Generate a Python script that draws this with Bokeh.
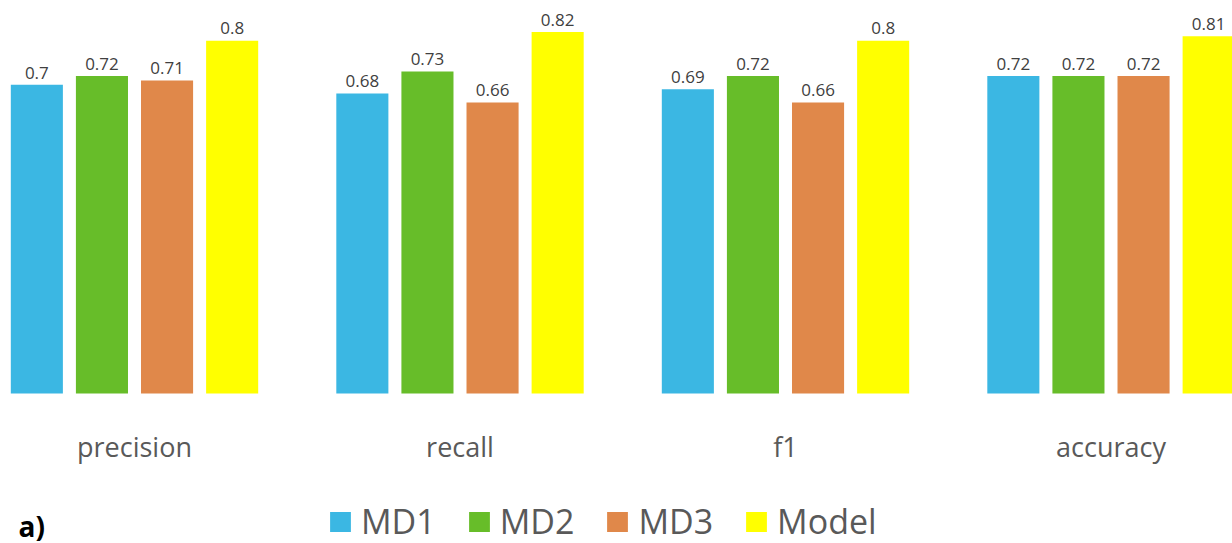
from bokeh.plotting import figure
from bokeh.models import ColumnDataSource, Range1d, Legend, LegendItem
from bokeh.core.properties import value
from bokeh.embed import file_html
from bokeh.resources import INLINE

# Metrics and the four compared models
categories = ["precision", "recall", "f1", "accuracy"]
series = ["MD1", "MD2", "MD3", "Model"]
md1 = [0.70, 0.68, 0.69, 0.72]
md2 = [0.72, 0.73, 0.72, 0.72]
md3 = [0.71, 0.66, 0.66, 0.72]
model = [0.80, 0.82, 0.80, 0.81]
colors = ["#3BB7E3", "#67BD29", "#E0884A", "#FFFF00"]
panel_tag = "a)"

W, H = 1232, 543
PX_PER_UNIT = 441.0      # vertical pixels per score unit
BASE_PX = 393.0          # pixel row of the zero line
GROUP_PX = 325.5         # horizontal pixels per metric group
FIRST_GROUP_PX = 134.0


def px_to_y(row):
    """Convert a pixel row (from the top) into a data y value."""
    return (BASE_PX - row) / PX_PER_UNIT


def px_to_x(col):
    return (col - FIRST_GROUP_PX) / GROUP_PX


p = figure(
    width=W, height=H, output_backend="svg", toolbar_location=None,
    x_range=Range1d(px_to_x(0), px_to_x(W)),
    y_range=Range1d(px_to_y(H), px_to_y(0)),
    min_border=0, min_border_left=0, min_border_right=0,
    min_border_top=0, min_border_bottom=0,
)
p.axis.visible = False
p.grid.visible = False
p.outline_line_color = None
p.background_fill_color = "white"
p.border_fill_color = "white"

offsets = [-0.3, -0.1, 0.1, 0.3]
renderers = []
for name, vals, off, col in zip(series, [md1, md2, md3, model], offsets, colors):
    src = ColumnDataSource(dict(
        x=[i + off for i in range(len(categories))],
        top=vals,
        label_y=[v + 12.3 / PX_PER_UNIT for v in vals],
        txt=[f"{v:g}" for v in vals],
    ))
    r = p.vbar(x="x", top="top", bottom=0, width=0.16, source=src,
               fill_color=col, line_color=None)
    renderers.append((name, r))
    p.text(x="x", y="label_y", text="txt", source=src,
           text_font=value("Open Sans"), text_font_size="17px",
           text_color="#404040", text_align="center",
           text_baseline="alphabetic")

# Metric names under each group
cat_src = ColumnDataSource(dict(x=list(range(len(categories))), txt=categories))
p.text(x="x", y=px_to_y(446), text="txt", source=cat_src,
       text_font=value("Open Sans"), text_font_size="27px",
       text_color="#595959", text_align="center", text_baseline="alphabetic")

legend = Legend(
    items=[LegendItem(label=n, renderers=[r]) for n, r in renderers],
    orientation="horizontal",
    location=(327, -1),
    glyph_width=26, glyph_height=25,
    label_standoff=8, spacing=30, padding=0, margin=0,
    label_text_font="Open Sans", label_text_font_size="34px",
    label_text_color="#595959",
    border_line_color=None, background_fill_alpha=0,
)
p.add_layout(legend)

# Panel tag in the lower-left corner
p.text(x=[px_to_x(18)], y=[px_to_y(525)], text=[panel_tag],
       text_font=value("Open Sans"), text_font_size="28px",
       text_font_style="bold", text_color="#000000",
       text_align="left", text_baseline="middle")

open("out.html", "w").write(file_html(p, INLINE))
